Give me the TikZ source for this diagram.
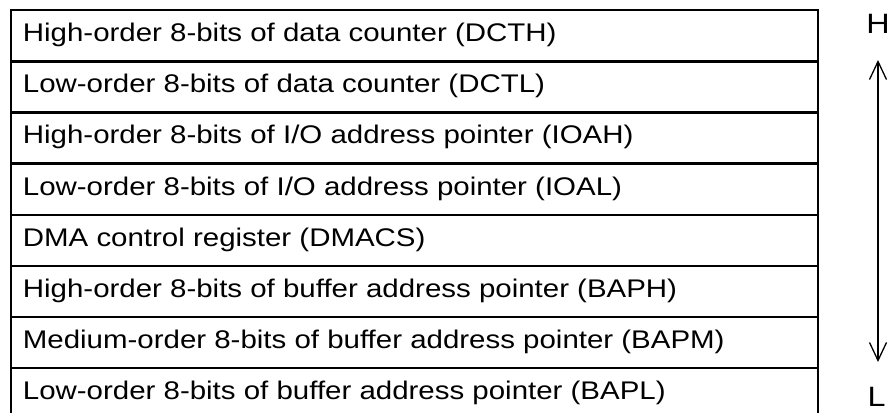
\documentclass[tikz,border=0pt]{standalone}
\usepackage{fontspec}
\setmainfont{Liberation Sans}[FakeStretch=1.155]
\usetikzlibrary{arrows.meta}
\begin{document}
\begin{tikzpicture}[x=1pt,y=-1pt,
  rowbox/.style={draw, line width=2.4pt, anchor=north west, inner sep=0pt,
                 minimum width=807pt, minimum height=51.14pt},
  rowtext/.style={anchor=base west, inner sep=0pt, font=\fontsize{25.5}{30}\selectfont},
  sidelabel/.style={inner sep=0pt, font=\fontsize{28}{34}\selectfont},
  order/.style={line width=1.3pt,
    {Straight Barb[length=18pt,width=17pt]}-{Straight Barb[length=18pt,width=17pt]}}]
\useasboundingbox (0,0) rectangle (888,412);
\clip (0,0) rectangle (888,412);

% register stack, one box per byte
\node[rowbox] (r1) at (10,9) {};
\node[rowbox] (r2) at (10,60.14) {};
\node[rowbox] (r3) at (10,111.28) {};
\node[rowbox] (r4) at (10,162.42) {};
\node[rowbox] (r5) at (10,213.56) {};
\node[rowbox] (r6) at (10,264.70) {};
\node[rowbox] (r7) at (10,315.84) {};
\node[rowbox] (r8) at (10,366.98) {};

\node[rowtext] (t1) at (22.7,41.70) {High-order 8-bits of data counter (DCTH)};
\node[rowtext] (t2) at (22.7,92.84) {Low-order 8-bits of data counter (DCTL)};
\node[rowtext] (t3) at (22.7,143.98) {High-order 8-bits of I/O address pointer (IOAH)};
\node[rowtext] (t4) at (22.7,195.12) {Low-order 8-bits of I/O address pointer (IOAL)};
\node[rowtext] (t5) at (22.7,246.26) {DMA control register (DMACS)};
\node[rowtext] (t6) at (22.7,297.40) {High-order 8-bits of buffer address pointer (BAPH)};
\node[rowtext] (t7) at (22.7,348.54) {Medium-order 8-bits of buffer address pointer (BAPM)};
\node[rowtext] (t8) at (22.7,399.68) {Low-order 8-bits of buffer address pointer (BAPL)};

% high / low order indicator
\node[sidelabel] (hlab) at (878,24) {H};
\node[sidelabel, anchor=base] (llab) at (876.5,406) {L};
\coordinate (hi) at (878,60);
\coordinate (lo) at (878,362);
\draw[order] (hi) -- (lo);
\end{tikzpicture}
\end{document}
